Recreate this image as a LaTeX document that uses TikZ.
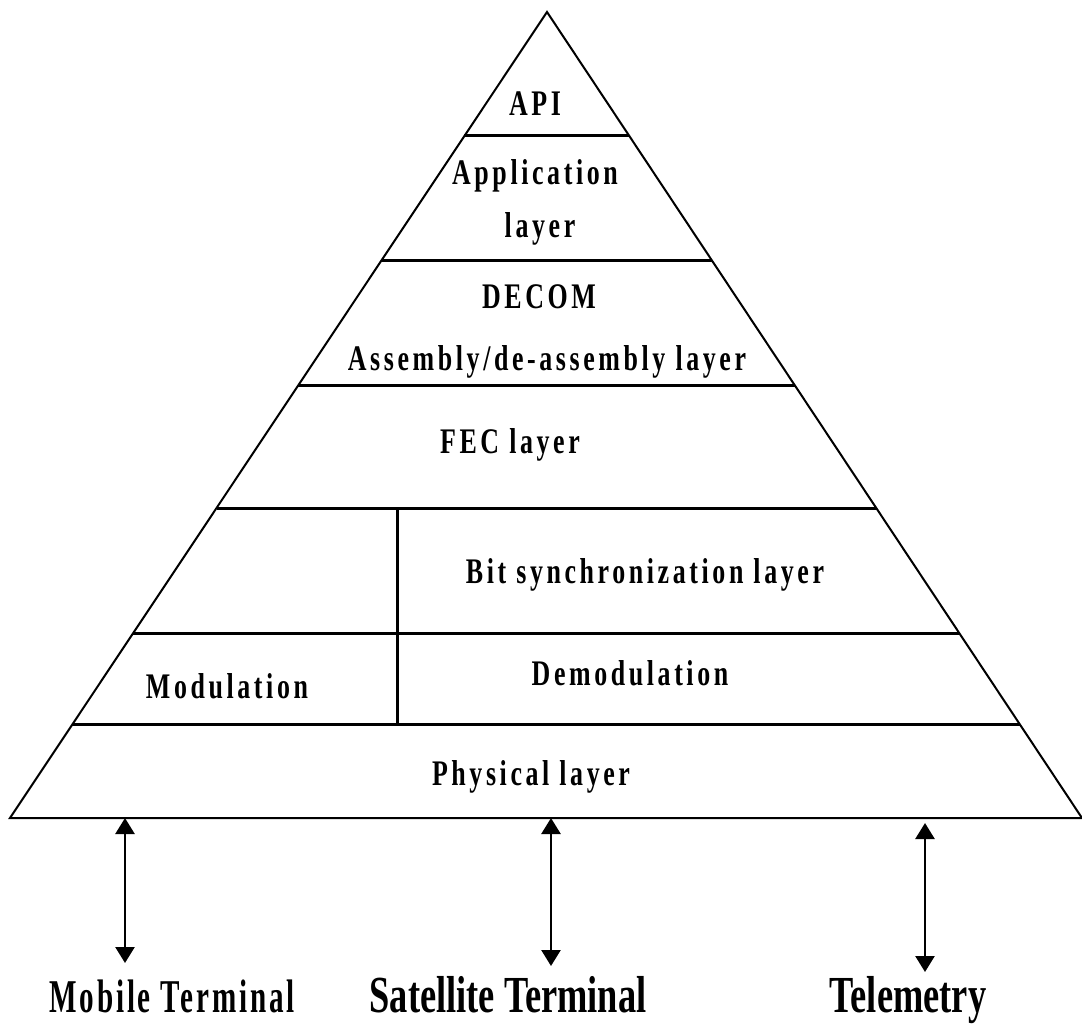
\documentclass[tikz,border=0pt]{standalone}
\usepackage{fontspec}
\setmainfont{Liberation Serif}
\newfontfamily\layfont[FakeStretch=0.72,LetterSpace=10]{Liberation Serif}
\newfontfamily\botfont[FakeStretch=0.7]{Liberation Serif}
\newfontfamily\mobfont[FakeStretch=0.62,LetterSpace=6]{Liberation Serif}
\usetikzlibrary{arrows.meta,calc}
\tikzset{
  side/.style={line width=2pt, line join=miter},
  divider/.style={line width=3pt},
  laytext/.style={anchor=base, inner sep=0pt, font=\layfont\bfseries\fontsize{36}{40}\selectfont},
  bottext/.style={anchor=base, inner sep=0pt, font=\botfont\bfseries\fontsize{52}{56}\selectfont},
  mobtext/.style={anchor=base, inner sep=0pt, font=\mobfont\bfseries\fontsize{47}{52}\selectfont},
  link/.style={line width=2.5pt, {Triangle[length=16pt,width=19pt]}-{Triangle[length=16pt,width=19pt]}}
}
\begin{document}
\begin{tikzpicture}[x=1pt,y=-1pt]
\useasboundingbox (0,0) rectangle (1082,1026);
\coordinate (apex) at (547,12);
\coordinate (bl) at (10,818);
\coordinate (br) at (1082,818);
% layer boundaries on both sides
\foreach \n/\t in {a/0.1538,b/0.3089,c/0.4628,d/0.6154,e/0.7705,f/0.8846}{
  \coordinate (L\n) at ($(apex)!\t!(bl)$);
  \coordinate (R\n) at ($(apex)!\t!(br)$);
}
\draw[divider] (La) -- (Ra);
\draw[divider] (Lb) -- (Rb);
\draw[divider] (Lc) -- (Rc);
\draw[divider] (Ld) -- (Rd);
\draw[divider] (Le) -- (Re);
\draw[divider] (Lf) -- (Rf);
\coordinate (vtop) at (397,508);
\coordinate (vbot) at (397,725);
\draw[divider] (vtop) -- (vbot);
\draw[side] (bl) -- (apex) -- (br) -- cycle;

% texts
\node[laytext] (api) at (535,115) {API};
\node[laytext] (app1) at (535,184) {Application};
\node[laytext] (app2) at (540,237) {layer};
\node[laytext] (decom) at (539,308) {DECOM};
\node[laytext] (asm) at (547,370) {Assembly/de-assembly layer};
\node[laytext] (fec) at (510,453) {FEC layer};
\node[laytext] (bit) at (645,583) {Bit synchronization layer};
\node[laytext] (mod) at (227,698) {Modulation};
\node[laytext] (demod) at (630,685) {Demodulation};
\node[laytext] (phy) at (531,785) {Physical layer};

% bottom labels
\node[mobtext] (mob) at (172,1012) {Mobile Terminal};
\node[bottext] (sat) at (508,1012) {Satellite Terminal};
\node[bottext] (tel) at (908,1012) {Telemetry};

% arrows
\coordinate (a1t) at (125,818);
\coordinate (a1b) at (125,963);
\coordinate (a2t) at (551,818);
\coordinate (a2b) at (551,966);
\coordinate (a3t) at (925,823);
\coordinate (a3b) at (925,972);
\draw[link] (a1t) -- (a1b);
\draw[link] (a2t) -- (a2b);
\draw[link] (a3t) -- (a3b);
\end{tikzpicture}
\end{document}
